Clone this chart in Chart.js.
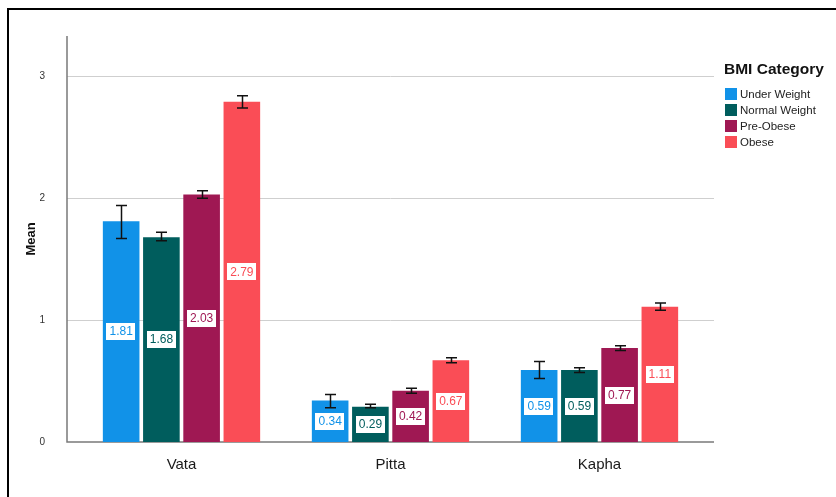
<!DOCTYPE html>
<html>
<head>
<meta charset="utf-8">
<script src="https://cdn.jsdelivr.net/npm/chart.js@4.4.1/dist/chart.umd.min.js"></script>
<style>
  html, body { margin: 0; padding: 0; background: #fff; }
  #wrap { position: relative; width: 836px; height: 497px; overflow: hidden; font-family: "Liberation Sans", Arial, sans-serif; }
  #frame { position: absolute; left: 7px; top: 8px; width: 840px; height: 500px; border-left: 2px solid #000; border-top: 2px solid #000; pointer-events: none; }
  #legend { position: absolute; left: 724px; top: 60px; color: #111; }
  #legend .title { font-weight: bold; font-size: 15.5px; line-height: 18px; margin-bottom: 8px; }
  #legend .item { display: flex; align-items: center; height: 16px; font-size: 11.5px; color: #222; }
  #legend .sw { width: 12px; height: 12px; margin-left: 1px; margin-right: 3px; }
</style>
</head>
<body>
<div id="wrap">
  <canvas id="chart" width="836" height="497"></canvas>
  <div id="frame"></div>
  <div id="legend"><div class="title">BMI Category</div></div>
</div>
<script>
// values
const categories = ['Vata', 'Pitta', 'Kapha'];
const groupNames = ['Under Weight', 'Normal Weight', 'Pre-Obese', 'Obese'];
const groupColors = ['#1192e8', '#005d5d', '#9f1853', '#fa4d56'];

const underWeight = [1.81, 0.34, 0.59];
const normalWeight = [1.68, 0.29, 0.59];
const preObese = [2.03, 0.42, 0.77];
const obese = [2.79, 0.67, 1.11];

// error bar ends (low / high)
const underWeightLow = [1.67, 0.28, 0.52];
const underWeightHigh = [1.94, 0.39, 0.66];
const normalWeightLow = [1.65, 0.28, 0.57];
const normalWeightHigh = [1.72, 0.31, 0.61];
const preObeseLow = [2.00, 0.40, 0.75];
const preObeseHigh = [2.06, 0.44, 0.79];
const obeseLow = [2.74, 0.65, 1.08];
const obeseHigh = [2.84, 0.69, 1.14];

const yTicks = [0, 1, 2, 3];
const yMax = 3.33;

const seriesValues = [underWeight, normalWeight, preObese, obese];
const seriesLow = [underWeightLow, normalWeightLow, preObeseLow, obeseLow];
const seriesHigh = [underWeightHigh, normalWeightHigh, preObeseHigh, obeseHigh];

// legend as html
const legendEl = document.getElementById('legend');
groupNames.forEach((name, i) => {
  const row = document.createElement('div');
  row.className = 'item';
  row.innerHTML = `<span class="sw" style="background:${groupColors[i]}"></span><span>${name}</span>`;
  legendEl.appendChild(row);
});

const EXT = 10; // axes run a little past the category band

const axesPlugin = {
  id: 'axesLines',
  beforeDatasetsDraw(chart) {
    const { ctx, chartArea: a, scales: { y } } = chart;
    const l = a.left - EXT, r = a.right + EXT;
    ctx.save();
    ctx.strokeStyle = '#cfcfcf';
    ctx.lineWidth = 1;
    yTicks.forEach(v => {
      if (v === 0) return;
      const py = Math.round(y.getPixelForValue(v)) + 0.5;
      ctx.beginPath(); ctx.moveTo(l, py); ctx.lineTo(r, py); ctx.stroke();
    });
    ctx.strokeStyle = '#7a7a7a';
    ctx.lineWidth = 1.5;
    const y0 = y.getPixelForValue(0);
    ctx.beginPath(); ctx.moveTo(l, a.top); ctx.lineTo(l, y0); ctx.lineTo(r, y0); ctx.stroke();
    ctx.restore();
  }
};

const errorPlugin = {
  id: 'errorBars',
  afterDatasetsDraw(chart) {
    const { ctx, scales: { y } } = chart;
    ctx.save();
    // value labels first, then whiskers on top
    chart.data.datasets.forEach((ds, di) => {
      const meta = chart.getDatasetMeta(di);
      meta.data.forEach((bar, i) => {
        const txt = ds.data[i].toFixed(2);
        ctx.font = '12px "Liberation Sans", Arial, sans-serif';
        const w = ctx.measureText(txt).width + 6, h = 17;
        const cy = (bar.y + bar.base) / 2;
        ctx.fillStyle = '#fff';
        ctx.fillRect(Math.round(bar.x - w / 2), Math.round(cy - h / 2), Math.round(w), h);
        ctx.fillStyle = groupColors[di];
        ctx.textAlign = 'center';
        ctx.textBaseline = 'middle';
        ctx.fillText(txt, bar.x, cy + 0.5);
      });
    });
    ctx.strokeStyle = '#111';
    ctx.lineWidth = 1.5;
    chart.data.datasets.forEach((ds, di) => {
      const meta = chart.getDatasetMeta(di);
      meta.data.forEach((bar, i) => {
        const hi = y.getPixelForValue(seriesHigh[di][i]);
        const lo = y.getPixelForValue(seriesLow[di][i]);
        const x = Math.round(bar.x) + 0.5;
        ctx.beginPath();
        ctx.moveTo(x, hi); ctx.lineTo(x, lo);
        ctx.moveTo(x - 5.5, hi); ctx.lineTo(x + 5.5, hi);
        ctx.moveTo(x - 5.5, lo); ctx.lineTo(x + 5.5, lo);
        ctx.stroke();
      });
    });
    ctx.restore();
  }
};

new Chart(document.getElementById('chart').getContext('2d'), {
  type: 'bar',
  data: {
    labels: categories,
    datasets: groupNames.map((name, i) => ({
      label: name,
      data: seriesValues[i],
      backgroundColor: groupColors[i],
      borderWidth: 0,
      categoryPercentage: 0.77,
      barPercentage: 0.91
    }))
  },
  options: {
    responsive: false,
    animation: false,
    devicePixelRatio: 1,
    layout: { padding: { top: 36, right: 132, left: 0, bottom: 0 } },
    plugins: { legend: { display: false }, tooltip: { enabled: false } },
    scales: {
      x: {
        grid: { display: false },
        border: { display: false },
        ticks: { color: '#1a1a1a', padding: 6, font: { family: '"Liberation Sans", Arial, sans-serif', size: 15 } },
        afterFit(scale) { scale.height = 55; }
      },
      y: {
        min: 0,
        max: yMax,
        grid: { display: false },
        border: { display: false },
        afterBuildTicks(scale) { scale.ticks = yTicks.map(v => ({ value: v })); },
        ticks: { color: '#333', padding: 24, font: { family: '"Liberation Sans", Arial, sans-serif', size: 10 } },
        title: { display: true, text: 'Mean', color: '#111', padding: { top: 24, bottom: 0 }, font: { family: '"Liberation Sans", Arial, sans-serif', size: 13, weight: 'bold' } },
        afterFit(scale) { scale.width = 77; }
      }
    }
  },
  plugins: [axesPlugin, errorPlugin]
});
</script>
</body>
</html>
